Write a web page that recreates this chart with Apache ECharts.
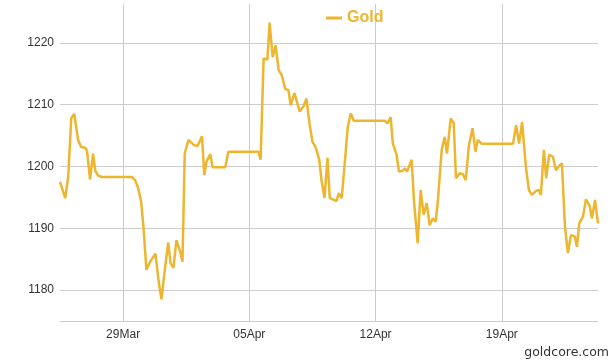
<!DOCTYPE html>
<html>
<head>
<meta charset="utf-8">
<script src="https://cdn.jsdelivr.net/npm/echarts@6/dist/echarts.min.js"></script>
<style>
  html, body { margin: 0; padding: 0; background: #ffffff; }
  #chart { width: 615px; height: 363px; }
</style>
</head>
<body>
<div id="chart"></div>
<script>
// Hours since 29 Mar 2015 00:00
const hours = [
  -84, -77, -73, -69, -65, -60, -56, -50, -48, -44, -40, -37, -33, -28,
  12, 16, 20, 24, 27, 31, 36, 43, 47, 51, 56, 60, 63, 67, 71, 76, 79, 82, 87,
  94, 99, 105, 108, 111, 116, 119, 136, 140, 180, 183, 187, 192, 195, 199, 203,
  207, 211, 216, 220, 223, 228, 235, 240, 244, 248, 252, 256, 261, 264, 268,
  272, 275, 279, 284, 287, 291, 296, 299, 303, 307, 348, 352, 356, 359, 364,
  367, 372, 375, 378, 384, 387, 392, 396, 400, 404, 408, 412, 416, 419, 424,
  428, 431, 436, 440, 443, 448, 452, 456, 460, 465, 469, 472, 477, 519, 523,
  527, 531, 536, 540, 544, 550, 553, 556, 560, 563, 567, 572, 576, 581, 584,
  588, 592, 596, 601, 604, 607, 612, 616, 621, 624, 628, 632
];
const goldPrices = [
  1197.5, 1194.9, 1198.4, 1207.8, 1208.5, 1204.3, 1203.2, 1203.0, 1202.5, 1197.9, 1202.1, 1199.3, 1198.5, 1198.3,
  1198.3, 1197.8, 1196.5, 1194.3, 1190.3, 1183.3, 1184.6, 1185.9, 1181.7, 1178.5, 1183.8, 1187.7, 1184.4, 1183.6, 1188.1, 1186.2, 1184.6, 1202.1, 1204.3,
  1203.5, 1203.3, 1204.9, 1198.6, 1200.8, 1202.0, 1199.9, 1199.9, 1202.4, 1202.4, 1201.1, 1217.5, 1217.3, 1223.3, 1217.7, 1219.6,
  1215.6, 1214.8, 1212.5, 1212.4, 1209.9, 1211.9, 1208.9, 1209.7, 1211.0, 1207.0, 1204.0, 1203.2, 1201.1, 1197.8, 1194.9,
  1201.4, 1194.9, 1194.7, 1194.4, 1195.7, 1194.9, 1202.1, 1206.4, 1208.6, 1207.4, 1207.4, 1207.0, 1208.0, 1203.7, 1201.9,
  1199.2, 1199.3, 1199.7, 1199.2, 1201.1, 1194.6, 1187.6, 1196.2, 1192.2, 1194.1, 1190.5, 1191.6, 1191.1, 1194.6, 1202.7,
  1204.8, 1202.1, 1207.8, 1207.0, 1198.1, 1198.9, 1198.8, 1197.8, 1203.2, 1206.2, 1202.4, 1204.3, 1203.7, 1203.7, 1206.7,
  1203.7, 1207.2, 1200.0, 1196.2, 1195.4, 1196.1, 1196.2, 1195.4, 1202.7, 1198.1, 1201.9, 1201.6, 1199.4, 1200.2, 1200.5,
  1190.3, 1186.0, 1188.9, 1188.7, 1187.0, 1190.8, 1191.9, 1194.7, 1193.6, 1191.6, 1194.6, 1190.8
];
// Weekly tick labels (every 168 hours from 29 Mar)
const xTickLabels = ['29Mar', '05Apr', '12Apr', '19Apr'];
const seriesName = 'Gold';
const sourceText = 'goldcore.com';

const gold = '#EEB52F';
const gridColor = '#cccccc';
const labelFont = 'Liberation Sans';

const chart = echarts.init(document.getElementById('chart'), null, { renderer: 'canvas' });
chart.setOption({
  animation: false,
  backgroundColor: '#ffffff',
  grid: { left: 60, right: 17, top: 4, bottom: 42, containLabel: false },
  legend: {
    left: 321, top: 5,
    itemWidth: 16, itemHeight: 3, itemGap: 10,
    icon: 'rect',
    data: [seriesName],
    textStyle: { color: gold, fontSize: 16, fontWeight: 'bold', fontFamily: labelFont, padding: [0, 0, 0, 0] }
  },
  xAxis: {
    type: 'value',
    min: hours[0],
    max: hours[hours.length - 1],
    minInterval: 168,
    maxInterval: 168,
    axisLine: { show: true, lineStyle: { color: gridColor, width: 1 } },
    axisTick: { show: false },
    axisLabel: {
      color: '#333333', fontSize: 12, fontFamily: labelFont, margin: 8,
      showMinLabel: false, showMaxLabel: false,
      formatter: v => {
        const i = Math.round(v / 168);
        return (Math.abs(v - i * 168) < 1e-6 && xTickLabels[i]) ? xTickLabels[i] : '';
      }
    },
    splitLine: { show: true, showMinLine: false, showMaxLine: false, lineStyle: { color: gridColor, width: 1 } }
  },
  yAxis: {
    type: 'value',
    min: 1175,
    max: 1226.3,
    minInterval: 10,
    maxInterval: 10,
    axisLine: { show: true, lineStyle: { color: gridColor, width: 1 } },
    axisTick: { show: false },
    axisLabel: {
      color: '#333333', fontSize: 12, fontFamily: labelFont, margin: 6,
      showMinLabel: false, showMaxLabel: false,
      formatter: v => (v % 10 === 0 ? String(v) : '')
    },
    splitLine: { show: true, showMinLine: false, showMaxLine: false, lineStyle: { color: gridColor, width: 1 } }
  },
  graphic: [{
    type: 'text',
    right: 6,
    top: 346,
    style: { text: sourceText, fill: '#333333', fontSize: 12.5, fontFamily: 'DejaVu Sans' }
  }],
  series: [{
    name: seriesName,
    type: 'line',
    data: hours.map((h, i) => [h, goldPrices[i]]),
    showSymbol: false,
    symbol: 'none',
    lineStyle: { color: gold, width: 2.5 },
    itemStyle: { color: gold },
    z: 3
  }]
});
</script>
</body>
</html>
